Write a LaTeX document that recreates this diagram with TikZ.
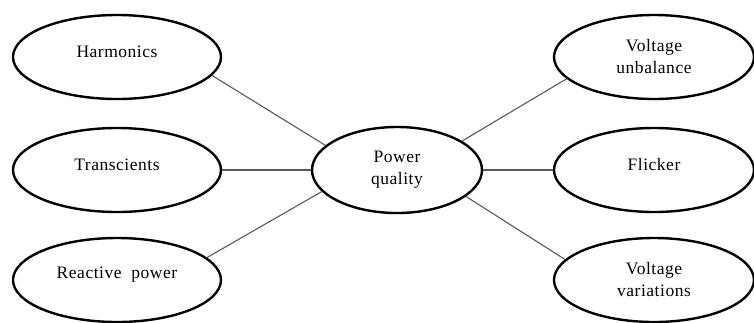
\documentclass[tikz,border=0pt]{standalone}
\usepackage{fontspec}
\setmainfont{Liberation Serif}[LetterSpace=3]
\usetikzlibrary{shapes.geometric}
\newcommand{\liftup}[1]{\raisebox{5pt}[\height][\depth]{#1}}
\begin{document}
\begin{tikzpicture}[x=1pt,y=-1pt,
  oval/.style={draw=black, line width=2.4pt, ellipse, inner sep=0pt,
    minimum width=208pt, minimum height=84pt, align=center,
    font=\fontsize{17.5}{22}\selectfont},
  link/.style={draw=black!65, line width=1.1pt}]
\useasboundingbox (0,0) rectangle (754,322);
\node[oval] (harm) at (117,57) {\liftup{Harmonics}};
\node[oval] (trans) at (117,170) {\liftup{Transcients}};
\node[oval] (react) at (117,280) {\liftup{Reactive\ \ power}};
\node[oval, minimum width=170pt, minimum height=86pt] (pq) at (397,170) {Power\\quality};
\node[oval, minimum width=200pt] (vu) at (654,57) {Voltage\\unbalance};
\node[oval, minimum width=200pt] (fl) at (654,170) {\liftup{Flicker}};
\node[oval, minimum width=200pt] (vv) at (654,280) {Voltage\\variations};
\draw[link] (harm.-11) -- (pq.161);
\draw[link] (trans.east) -- (pq.west);
\draw[link] (react.14) -- (pq.-164);
\draw[link] (pq.24) -- (vu.-166);
\draw[link] (pq.east) -- (fl.west);
\draw[link] (pq.-21) -- (vv.167);
\end{tikzpicture}
\end{document}
